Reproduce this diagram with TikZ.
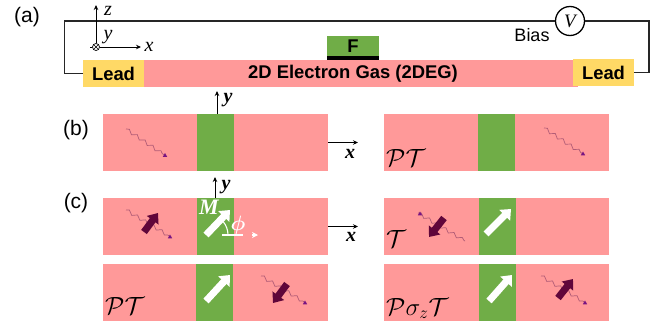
\documentclass[tikz,border=0pt]{standalone}
\usepackage{amsmath,amssymb}
\usepackage{fontspec}
\usepackage{xcolor}
\setmainfont{Liberation Sans}
\newfontfamily\axisfont{Liberation Serif}
\usetikzlibrary{arrows.meta, positioning, shapes.geometric, decorations.pathmorphing}
\definecolor{channel_pink}{RGB}{255, 153, 153}
\definecolor{gate_green}{RGB}{112, 173, 71}
\definecolor{lead_gold}{RGB}{255, 217, 102}
\definecolor{spin_dark}{RGB}{96, 6, 58}
\definecolor{wave_mauve}{RGB}{178, 92, 118}
\definecolor{tip_purple}{RGB}{120, 20, 130}
\tikzstyle{wire} = [line width=1.3pt, draw=black!85]
\tikzstyle{axis} = [line width=0.9pt, -{Stealth[length=5pt,width=4.5pt]}]
\tikzstyle{panelbox} = [rectangle, fill=channel_pink, inner sep=0pt, outer sep=0pt, minimum width=225pt, minimum height=57pt]
\tikzstyle{gatebox} = [rectangle, fill=gate_green, inner sep=0pt, outer sep=0pt, minimum width=37pt, minimum height=57pt]
\tikzstyle{leadbox} = [rectangle, fill=lead_gold, inner sep=0pt, outer sep=0pt, minimum width=61pt, minimum height=27pt, font=\fontsize{18.4}{20}\selectfont\bfseries]
\tikzstyle{wave} = [line width=0.7pt, draw=wave_mauve, decorate, decoration={snake, segment length=9.5pt, amplitude=1.7pt}]
\tikzstyle{tipdot} = [regular polygon, regular polygon sides=3, fill=tip_purple, inner sep=0pt, minimum size=5pt]
\tikzstyle{spin} = [line width=7pt, draw=spin_dark, -{Triangle[length=9pt,width=14pt]}]
\tikzstyle{mag} = [line width=7pt, draw=white, -{Triangle[length=9pt,width=15pt]}]
\tikzstyle{tag} = [inner sep=0pt, font=\fontsize{21}{23}\selectfont]
\tikzstyle{axlabel} = [inner sep=0pt, font=\axisfont\fontsize{20}{22}\selectfont\itshape]
\tikzstyle{axbold} = [inner sep=0pt, font=\axisfont\fontsize{20}{22}\selectfont\itshape\bfseries]
\tikzstyle{sym} = [inner sep=0pt, anchor=south west, font=\fontsize{25}{27}\selectfont]

\begin{document}
\begin{tikzpicture}[x=1pt, y=-1pt]
\useasboundingbox (0,0) rectangle (662,327);

% Device
\node[rectangle, fill=channel_pink, inner sep=0pt, outer sep=0pt, minimum width=434pt, minimum height=27pt, font=\fontsize{18.4}{20}\selectfont\bfseries] (channel) at (361,73.5) {\hspace*{-16pt}2D Electron Gas (2DEG)};
\node[leadbox, left=0pt of channel] (leadL) {Lead};
\node[leadbox] (leadR) at (603.5,72.5) {Lead};
\node[rectangle, fill=black, inner sep=0pt, outer sep=0pt, minimum width=52pt, minimum height=4.5pt, above=0pt of channel, xshift=-8pt] (bar) {};
\node[rectangle, fill=gate_green, inner sep=0pt, outer sep=0pt, minimum width=52pt, minimum height=19.5pt, above=0pt of bar, font=\fontsize{18.4}{20}\selectfont\bfseries] (gate) {F};

% Circuit
\node[circle, draw, line width=1.3pt, fill=white, minimum size=29pt, inner sep=0pt, font=\axisfont\fontsize{19}{21}\selectfont\itshape] (meter) at (570,21) {V};
\node[inner sep=0pt, font=\fontsize{18}{20}\selectfont] (bias) at (532,35) {Bias};
\coordinate (cornerL) at (64.5,21);
\coordinate (cornerR) at (649,21);
\draw[wire] (leadL.west) -| (cornerL) -- (meter.west);
\draw[wire] (meter.east) -- (cornerR) |- (leadR.east);

% Axes
\node[circle, draw, line width=0.7pt, minimum size=7pt, inner sep=0pt] (origin) at (96,47) {};
\draw[line width=0.6pt] (origin.45) -- (origin.225);
\draw[line width=0.6pt] (origin.135) -- (origin.315);
\coordinate (zend) at (96,5);
\coordinate (xend) at (141,47);
\coordinate (ytick) at (90,47);
\draw[axis] (origin.north) -- (zend);
\draw[axis] (origin.east) -- (xend);
\draw[line width=0.9pt] (origin.west) -- (ytick);
\node[axlabel] (zlabel) at (108,11) {z};
\node[axlabel] (ylabel) at (108,37) {y};
\node[axlabel] (xlabel) at (149,47) {x};

% Labels
\node[tag] (taga) at (27,17) {(a)};
\node[tag] (tagb) at (76,130) {(b)};
\node[tag] (tagc) at (76,203) {(c)};

% Panels (b)
\node[panelbox] (panelb) at (215.5,142.5) {};
\node[panelbox, right=56pt of panelb] (panelbr) {};
\node[gatebox] (gateb) at (panelb) {};
\node[gatebox] (gatebr) at (panelbr) {};
\coordinate (yb) at (217,91);
\coordinate (xb) at (358,142.5);
\draw[axis] ([xshift=1.5pt]panelb.north) -- (yb);
\draw[axis] (panelb.east) -- (xb);
\node[axbold] (ybl) at (228,100) {y};
\node[axbold] (xbl) at (350,154) {x};
\node[sym] (ptb) at (386,167) {$\mathcal{PT}$};

% Panels (c)
\node[panelbox] (panelc) at (215.5,226.5) {};
\node[panelbox, right=56pt of panelc] (panelcr) {};
\node[panelbox, below=9pt of panelc] (paneld) {};
\node[panelbox, below=9pt of panelcr] (paneldr) {};
\node[gatebox] (gatec) at (panelc) {};
\node[gatebox, xshift=1pt] (gatecr) at (panelcr) {};
\node[gatebox, xshift=-1pt] (gated) at (paneld) {};
\node[gatebox, xshift=1pt] (gatedr) at (paneldr) {};
\coordinate (yc) at (215,177);
\coordinate (xc) at (358,226.5);
\draw[axis] ([xshift=-0.5pt]panelc.north) -- (yc);
\draw[axis] (panelc.east) -- (xc);
\node[axbold] (ycl) at (226,187) {y};
\node[axbold] (xcl) at (351,237) {x};
\node[sym] (ptd) at (105,315) {$\mathcal{PT}$};
\node[sym] (tcr) at (386,248) {$\mathcal{T}$};
\node[sym] (psd) at (386,319) {$\mathcal{P}\sigma_z\mathcal{T}$};

% Electrons
\draw[wave] (126,129) -- (165,155.5);
\node[tipdot] (tipb) at (165,155.5) {};
\draw[wave] (544,128) -- (583,154);
\node[tipdot] (tipbr) at (583,154) {};
\draw[wave] (126,210) -- (171,237);
\node[tipdot] (tipc) at (170,237) {};
\draw[wave] (418,213) -- (465,241);
\node[tipdot] (tipcr) at (420,214) {};
\draw[wave] (261,276) -- (306,303);
\node[tipdot] (tipd) at (305,303) {};
\draw[wave] (541,276) -- (586,303);
\node[tipdot] (tipdr) at (585,303) {};

% Spins
\draw[spin] (144,232) -- (158,213);
\draw[spin] (287,284) -- (273,303);
\draw[spin] (444,218) -- (429,237);
\draw[spin] (558,298) -- (573,279);

% Magnetization
\draw[mag] (206,235) -- (230,210);
\draw[mag] (206,301) -- (230,275);
\draw[mag] (486,234) -- (511,209);
\draw[mag] (489,301) -- (512,275);
\draw[line width=1.3pt, white, dash pattern=on 21pt off 9pt, -{Stealth[length=6pt,width=6pt]}] (222,235) -- (258,235);
\draw[line width=1.1pt, white] (228,235) arc[start angle=0, end angle=-40, radius=21];
\node[axbold, text=white, font=\axisfont\fontsize{22}{24}\selectfont\itshape\bfseries] (mlabel) at (209,207) {M};
\node[inner sep=0pt, text=white, font=\fontsize{20}{22}\selectfont] (philabel) at (238,225) {$\boldsymbol{\phi}$};

\end{tikzpicture}
\end{document}
